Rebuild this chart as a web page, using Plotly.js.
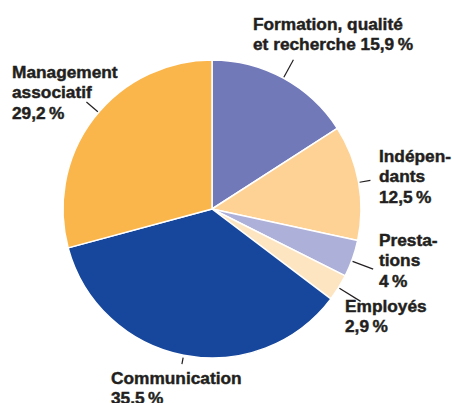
<!DOCTYPE html>
<html>
<head>
<meta charset="utf-8">
<script src="https://cdn.plot.ly/plotly-3.0.1.min.js"></script>
<style>
html,body{margin:0;padding:0;background:#fff}
#chart .annotation-text{stroke:#231F20;stroke-width:0.45px;}
</style>
</head>
<body>
<div id="chart" style="width:452px;height:403px"></div>
<script>
// Data (clockwise from 12 o'clock)
var categories = ["Formation, qualité et recherche", "Indépendants", "Prestations", "Employés", "Communication", "Management associatif"];
var values = [15.9, 12.5, 4, 2.9, 35.5, 29.2];
var labelTexts = [
  "Formation, qualité<br>et recherche 15,9\u202F%",
  "Indépen-<br>dants<br>12,5\u202F%",
  "Presta-<br>tions<br>4\u202F%",
  "Employés<br>2,9\u202F%",
  "Communication<br>35,5\u202F%",
  "Management<br>associatif<br>29,2\u202F%"
];
var colors = ["#7179B9", "#FED194", "#ADB0D9", "#FEE5C2", "#17479C", "#FBB64B"];

// Styling / layout (pixels)
var W = 452, H = 403;
var cx = 212, cy = 209, R = 149;
var leaderIn  = [150, 150, 150, 150, 151.5, 150];
var leaderOut = [170, 161, 172, 175, 158, 165];
var leaderShiftDeg = [0, 0, 1, 0, 0, 3];
var labelPos = [[252, 13], [378, 145], [378, 229], [344, 295], [110, 367], [11, 61]];
var lineStep = 20.4;

var total = values.reduce(function(a, b) { return a + b; }, 0);
var shapes = [], annotations = [];
var cum = 0;
function px(x) { return x / W; }
function py(y) { return 1 - y / H; }
for (var i = 0; i < values.length; i++) {
  var mid = (cum + values[i] / 2) / total * 2 * Math.PI + leaderShiftDeg[i] * Math.PI / 180;
  cum += values[i];
  var s = Math.sin(mid), c = Math.cos(mid);
  shapes.push({
    type: "line", xref: "paper", yref: "paper",
    x0: px(cx + leaderIn[i] * s), y0: py(cy - leaderIn[i] * c),
    x1: px(cx + leaderOut[i] * s), y1: py(cy - leaderOut[i] * c),
    line: {color: "#231F20", width: 1.2}
  });
  var lines = labelTexts[i].split("<br>");
  for (var k = 0; k < lines.length; k++) {
    annotations.push({
      xref: "paper", yref: "paper",
      x: px(labelPos[i][0]), y: py(labelPos[i][1] + k * lineStep),
      xanchor: "left", yanchor: "top", align: "left",
      showarrow: false, borderpad: 0,
      text: "<b>" + lines[k] + "</b>",
      font: {family: "Liberation Sans, Arial, sans-serif", size: 17.3, color: "#231F20"}
    });
  }
}

var trace = {
  type: "pie",
  labels: categories,
  values: values,
  sort: false,
  direction: "clockwise",
  rotation: 0,
  textinfo: "none",
  hoverinfo: "label+value",
  marker: {colors: colors, line: {color: "#FFFFFF", width: 1.5}},
  domain: {x: [(cx - R) / W, (cx + R) / W], y: [1 - (cy + R) / H, 1 - (cy - R) / H]},
  showlegend: false
};

var layout = {
  width: W, height: H,
  margin: {l: 0, r: 0, t: 0, b: 0},
  paper_bgcolor: "#FFFFFF",
  showlegend: false,
  shapes: shapes,
  annotations: annotations
};

Plotly.newPlot("chart", [trace], layout, {staticPlot: true, displayModeBar: false});
</script>
</body>
</html>
